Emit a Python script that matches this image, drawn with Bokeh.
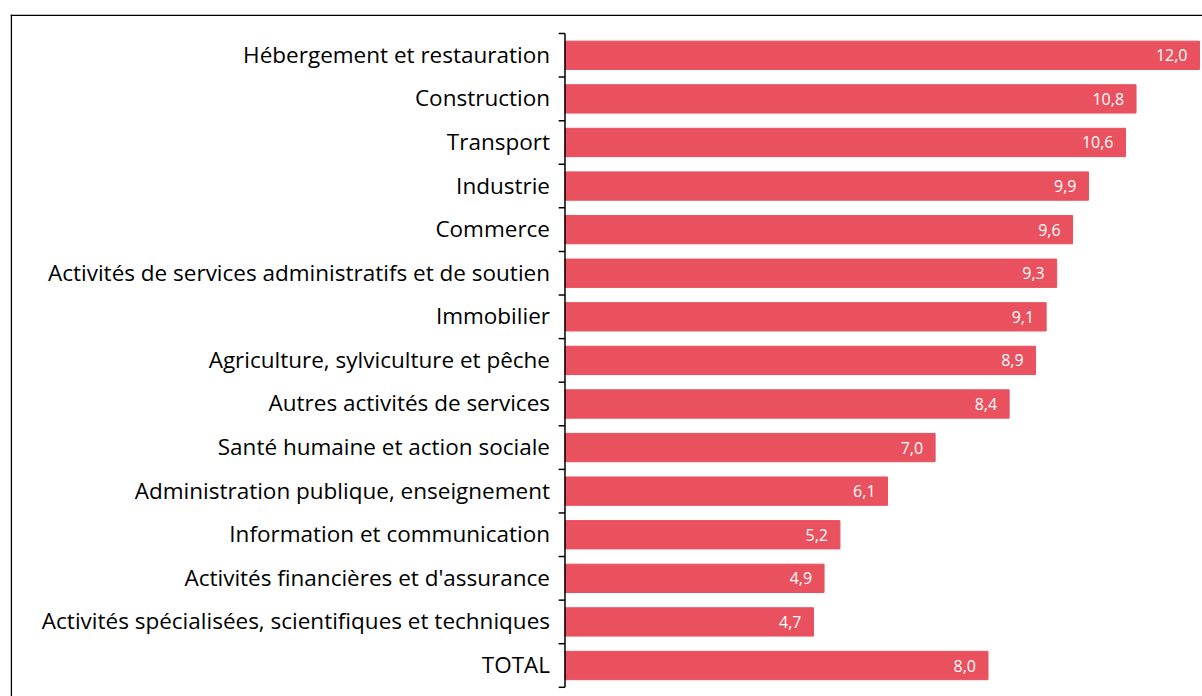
from bokeh.plotting import figure
from bokeh.models import Range1d, ColumnDataSource, Span
from bokeh.core.properties import value
from bokeh.embed import file_html
from bokeh.resources import INLINE

categories = [
    "Hébergement et restauration",
    "Construction",
    "Transport",
    "Industrie",
    "Commerce",
    "Activités de services administratifs et de soutien",
    "Immobilier",
    "Agriculture, sylviculture et pêche",
    "Autres activités de services",
    "Santé humaine et action sociale",
    "Administration publique, enseignement",
    "Information et communication",
    "Activités financières et d'assurance",
    "Activités spécialisées, scientifiques et techniques",
    "TOTAL",
]
values = [12.0, 10.8, 10.6, 9.9, 9.6, 9.3, 9.1, 8.9, 8.4, 7.0, 6.1, 5.2, 4.9, 4.7, 8.0]

n = len(categories)
ypos = [n - 1 - i for i in range(n)]
labels = [f"{v:.1f}".replace(".", ",") for v in values]

src = ColumnDataSource(dict(y=ypos, v=values, cat=categories, lab=labels))

BAR = "#E9515F"
X0, X1 = -10.487, 12.057
Y0, Y1 = -0.711, 14.936

p = figure(
    width=1202, height=696,
    x_range=Range1d(X0, X1),
    y_range=Range1d(Y0, Y1),
    output_backend="svg", toolbar_location=None,
    min_border_left=10, min_border_top=14, min_border_right=0, min_border_bottom=0,
)
p.axis.visible = False
p.grid.visible = False
p.outline_line_color = None
p.background_fill_color = "white"
p.border_fill_color = "white"

# chart border (left and top edges; right/bottom fall outside the picture)
p.add_layout(Span(location=X0 + 0.015, dimension="height", line_color="#000000", line_width=1.5))
p.add_layout(Span(location=Y1 - 0.018, dimension="width", line_color="#000000", line_width=1.5))

p.hbar(y="y", right="v", left=0, height=0.65, color=BAR, source=src)

# vertical category axis with boundary ticks
p.segment(x0=[0], y0=[-0.5], x1=[0], y1=[n - 0.5], line_color="#000000", line_width=1.5)
bounds = [j - 0.5 for j in range(n + 1)]
p.segment(x0=[-0.12] * len(bounds), y0=bounds, x1=[0] * len(bounds), y1=bounds,
          line_color="#000000", line_width=1.5)

p.text(x=0, y="y", text="cat", source=src, x_offset=-15, y_offset=-1,
       text_align="right", text_baseline="middle",
       text_font=value("Open Sans"), text_font_size="22.5px", text_color="#000000")

p.text(x="v", y="y", text="lab", source=src, x_offset=-12,
       text_align="right", text_baseline="middle",
       text_font=value("Open Sans"), text_font_size="16px", text_color="#FFFFFF")

open("out.html", "w").write(file_html(p, INLINE))
